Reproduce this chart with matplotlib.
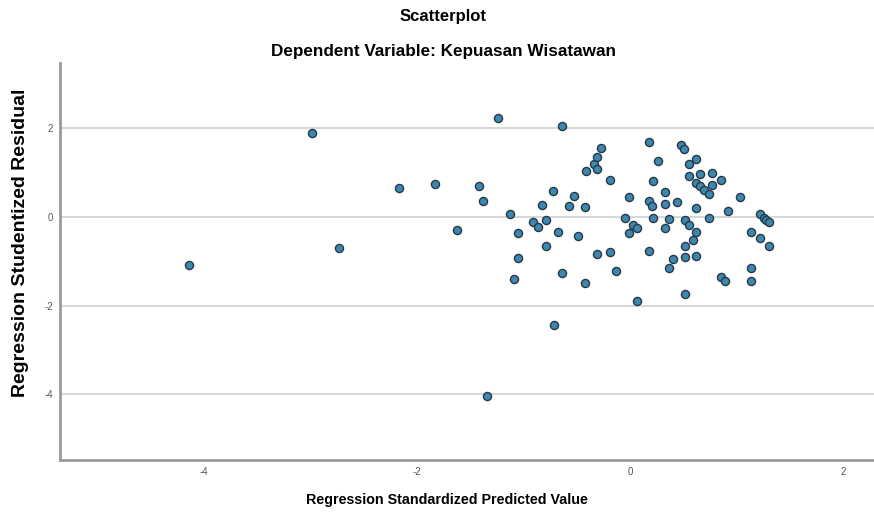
import numpy as np
import matplotlib.pyplot as plt

plt.rcParams['font.family'] = ['Liberation Sans', 'DejaVu Sans']
plt.rcParams['axes.unicode_minus'] = False

# standardized predicted value (x) and studentized residual (y)
pred = [-4.14, -2.98, -2.73, -2.17, -1.83, -1.62, -1.42, -1.38, -1.34, -1.24,
        -1.13, -1.05, -1.05, -1.09, -0.91, -0.86, -0.79, -0.83, -0.72, -0.68,
        -0.79, -0.71, -0.64, -0.64, -0.53, -0.57, -0.49, -0.42, -0.42, -0.41,
        -0.34, -0.31, -0.31, -0.27, -0.31, -0.19, -0.19, -0.13, -0.05, -0.01,
        -0.01, 0.03, 0.07, 0.07, 0.18, 0.18, 0.21, 0.22, 0.22, 0.18,
        0.26, 0.33, 0.33, 0.33, 0.37, 0.37, 0.40, 0.44, 0.48, 0.51,
        0.52, 0.55, 0.52, 0.52, 0.52, 0.55, 0.55, 0.59, 0.62, 0.62,
        0.62, 0.62, 0.62, 0.66, 0.66, 0.69, 0.74, 0.74, 0.77, 0.77,
        0.85, 0.92, 0.85, 0.89, 1.03, 1.14, 1.14, 1.14, 1.22, 1.22,
        1.26, 1.28, 1.30, 1.30]
resid = [-1.08, 1.90, -0.71, 0.65, 0.75, -0.29, 0.70, 0.35, -4.05, 2.23,
         0.07, -0.37, -0.92, -1.40, -0.12, -0.22, -0.07, 0.26, 0.59, -0.33,
         -0.65, -2.44, 2.05, -1.26, 0.47, 0.25, -0.44, 0.22, -1.48, 1.05,
         1.19, 1.35, 1.08, 1.56, -0.84, -0.80, 0.84, -1.23, -0.02, 0.46,
         -0.37, -0.18, -0.26, -1.90, 1.70, 0.35, 0.25, 0.81, -0.02, -0.76,
         1.27, 0.57, 0.29, -0.26, -0.05, -1.16, -0.96, 0.34, 1.63, 1.54,
         -0.07, -0.17, -0.65, -0.91, -1.74, 1.19, 0.93, -0.53, 1.30, 0.76,
         0.21, -0.33, -0.87, 0.97, 0.70, 0.61, 0.52, -0.02, 1.00, 0.72,
         0.84, 0.14, -1.35, -1.44, 0.46, -0.33, -1.16, -1.44, 0.06, -0.48,
         -0.03, -0.07, -0.11, -0.65]

xticks = [-4, -2, 0, 2]
yticks = [-4, -2, 0, 2]

fig = plt.figure(figsize=(8.74, 5.13), dpi=100)
ax = fig.add_axes([0.0686, 0.1033, 0.9314, 0.774])

for t in yticks:
    ax.axhline(t, color='#cfcfcf', lw=1.2, zorder=1)

ax.scatter(pred, resid, s=34, facecolor='#3f88ad', edgecolor='#26384a',
           linewidth=1.0, zorder=3)

ax.set_xlim(-5.35, 2.29)
ax.set_ylim(-5.49, 3.48)
ax.set_xticks(xticks)
ax.set_yticks(yticks)
ax.tick_params(length=0, labelsize=7, colors='#555555')
ax.tick_params(axis='y', pad=5)
ax.tick_params(axis='x', pad=5)

for s in ['top', 'right']:
    ax.spines[s].set_visible(False)
for s in ['left', 'bottom']:
    ax.spines[s].set_color('#9a9a9a')
    ax.spines[s].set_linewidth(2)

fig.text(0.511, 0.025, 'Regression Standardized Predicted Value', ha='center',
         va='center', fontsize=10.3, fontweight='bold')
fig.text(0.023, 0.526, 'Regression Studentized Residual', ha='center',
         va='center', rotation=90, fontsize=14, fontweight='bold')

fig.text(0.507, 0.968, 'Scatterplot', ha='center', va='center',
         fontsize=12, fontweight='bold')
fig.text(0.507, 0.899, 'Dependent Variable: Kepuasan Wisatawan', ha='center',
         va='center', fontsize=12.3, fontweight='bold')

plt.savefig('out.png', dpi=100)
